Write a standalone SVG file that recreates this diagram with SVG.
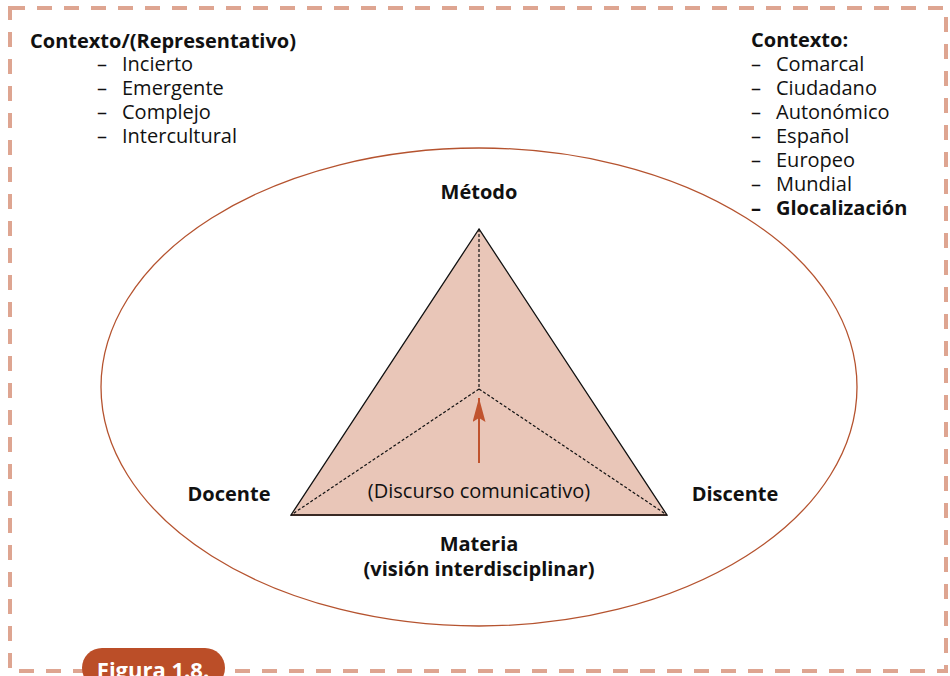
<svg xmlns="http://www.w3.org/2000/svg" width="950" height="676" viewBox="0 0 950 676">
<style>
text{font-family:"Open Sans","Noto Sans","Liberation Sans",sans-serif;font-size:20px;fill:#111}
.b{font-weight:bold}
.m{text-anchor:middle}
.dash{stroke:#111;stroke-width:1.2;stroke-dasharray:3,2;fill:none}
</style>
<defs>
<marker id="ah" viewBox="0 0 24 13" refX="24" refY="6.5" markerWidth="24" markerHeight="13" orient="auto" markerUnits="userSpaceOnUse">
<path d="M0,0 L24,6.5 L0,13 L4,6.5 z" fill="#c0532e"/>
</marker>
</defs>
<rect x="10" y="8" width="936" height="663" fill="none" stroke="#dea591" stroke-width="4" stroke-dasharray="15,12"/>
<g id="badge">
<rect x="82" y="648" width="143" height="40" rx="20" fill="#bb4e28"/>
<text x="153" y="678" class="b m" style="fill:#fff;font-size:22px">Figura 1.8.</text>
</g>
<g id="context-left">
<text x="30" y="48" class="b">Contexto/(Representativo)</text>
<text x="97" y="71">–</text><text x="122" y="71">Incierto</text>
<text x="97" y="95">–</text><text x="122" y="95">Emergente</text>
<text x="97" y="119">–</text><text x="122" y="119">Complejo</text>
<text x="97" y="143">–</text><text x="122" y="143">Intercultural</text>
</g>
<g id="ellipse">
<ellipse cx="479" cy="387" rx="378" ry="239" fill="none" stroke="#b5532f" stroke-width="1.3"/>
</g>
<g id="context-right">
<text x="751" y="47" class="b">Contexto:</text>
<text x="751" y="71">–</text><text x="776" y="71">Comarcal</text>
<text x="751" y="95">–</text><text x="776" y="95">Ciudadano</text>
<text x="751" y="119">–</text><text x="776" y="119">Autonómico</text>
<text x="751" y="143">–</text><text x="776" y="143">Español</text>
<text x="751" y="167">–</text><text x="776" y="167">Europeo</text>
<text x="751" y="191">–</text><text x="776" y="191">Mundial</text>
<text x="751" y="215" class="b">–</text><text x="776" y="215" class="b">Glocalización</text>
</g>
<g id="triangle">
<polygon points="479,229 291,515 667,515" fill="#e9c6b8" stroke="#111" stroke-width="1.3"/>
<line x1="291" y1="515" x2="667" y2="515" stroke="#3a2a25" stroke-width="2"/>
</g>
<g id="connectors">
<line class="dash" x1="479" y1="229" x2="479" y2="389"/>
<line class="dash" x1="479" y1="389" x2="291" y2="515"/>
<line class="dash" x1="479" y1="389" x2="667" y2="515"/>
<line x1="479" y1="463" x2="479" y2="398" stroke="#c0532e" stroke-width="2" marker-end="url(#ah)"/>
</g>
<g id="metodo"><text x="479" y="199" class="b m">Método</text></g>
<g id="docente"><text x="229" y="501" class="b m">Docente</text></g>
<g id="discente"><text x="735" y="501" class="b m">Discente</text></g>
<g id="discurso"><text x="479" y="498" class="m">(Discurso comunicativo)</text></g>
<g id="materia">
<text x="479" y="551" class="b m">Materia</text>
<text x="479" y="576" class="b m">(visión interdisciplinar)</text>
</g>
</svg>
